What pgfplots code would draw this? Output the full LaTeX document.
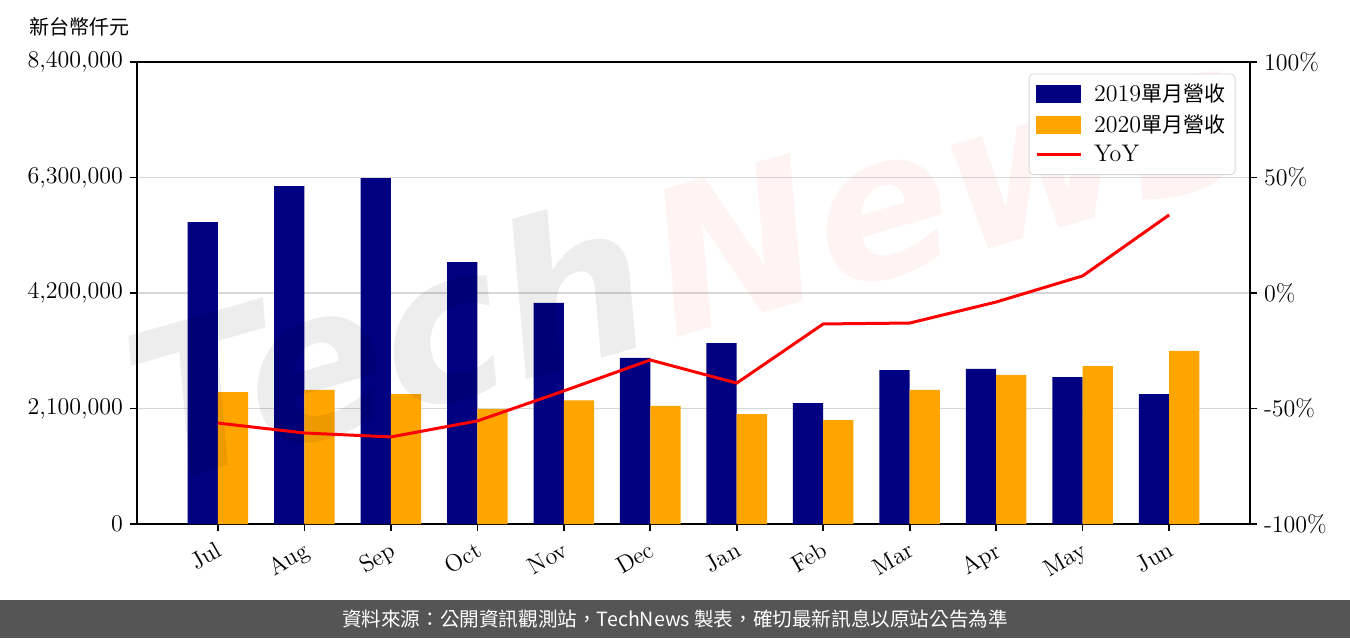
\documentclass[border=0pt]{standalone}
\usepackage{fontspec}
\usepackage{pgfplots}
\pgfplotsset{compat=1.18}
\newfontfamily\cjk{Noto Sans CJK TC}
\newfontfamily\wm{DejaVu Sans}
\definecolor{navybar}{RGB}{0,0,128}
\definecolor{orangebar}{RGB}{255,165,0}
\definecolor{footgray}{RGB}{85,85,85}
\definecolor{gridgray}{RGB}{215,215,215}
\begin{document}
\begin{tikzpicture}
\path (-68.5pt,-57pt) rectangle (606.5pt,262pt);
\fill[footgray] (-68.5pt,-57pt) rectangle (606.5pt,-38pt);
\node[text=white, font=\cjk\fontsize{9.8}{11}\selectfont] at (269pt,-47.5pt)
  {資料來源：公開資訊觀測站，TechNews 製表，確切最新訊息以原站公告為準};
\node[font=\cjk\fontsize{10}{12}\selectfont] at (-28.5pt,248.5pt) {新台幣仟元};

\begin{axis}[
    at={(0,0)}, anchor=south west,
    scale only axis, width=556.5pt, height=231pt,
    xmin=-0.935, xmax=11.935,
    ymin=0, ymax=8400000,
    axis line style={line width=1pt},
    xtick pos=left, ytick pos=left,
    tick align=outside,
    major tick length=3.5pt,
    tick style={line width=0.8pt, black},
    xtick={0,...,11},
    xticklabels={Jul,Aug,Sep,Oct,Nov,Dec,Jan,Feb,Mar,Apr,May,Jun},
    x tick label style={rotate=30, anchor=north east, font=\fontsize{12}{14}\selectfont},
    ytick={0,2100000,4200000,6300000,8400000},
    yticklabels={0,{2,100,000},{4,200,000},{6,300,000},{8,400,000}},
    y tick label style={font=\fontsize{12}{14}\selectfont},
    scaled y ticks=false,
    ymajorgrids,
    grid style={gridgray, line width=0.8pt},
    ybar, bar width=0.35,
]
\addplot[fill=navybar, draw=none, bar shift=-0.175] coordinates {
(0,5490000) (1,6145000) (2,6290000) (3,4760000) (4,4020000) (5,3020000)
(6,3290000) (7,2200000) (8,2800000) (9,2820000) (10,2670000) (11,2360000)};
\addplot[fill=orangebar, draw=none, bar shift=0.175] coordinates {
(0,2400000) (1,2440000) (2,2360000) (3,2090000) (4,2250000) (5,2150000)
(6,2000000) (7,1890000) (8,2440000) (9,2710000) (10,2870000) (11,3150000)};
\end{axis}

\node[overlay, font=\wm\bfseries\itshape\fontsize{104}{104}\selectfont, rotate=16,
  text=black, opacity=0.07, anchor=west] at (-5pt,55pt) {Tech};
\node[overlay, font=\wm\bfseries\itshape\fontsize{100}{100}\selectfont, rotate=16,
  text=red!40, opacity=0.12, anchor=west] at (255pt,126pt) {News};

\begin{axis}[
    at={(0,0)}, anchor=south west,
    scale only axis, width=556.5pt, height=231pt,
    xmin=-0.935, xmax=11.935,
    ymin=-100, ymax=100,
    axis x line=none,
    axis y line*=right,
    axis line style={line width=1pt},
    tick align=outside,
    major tick length=3.5pt,
    tick style={line width=0.8pt, black},
    ytick={-100,-50,0,50,100},
    yticklabels={-100\%,-50\%,0\%,50\%,100\%},
    y tick label style={font=\fontsize{12}{14}\selectfont},
    legend style={at={(0.987,0.975)}, anchor=north east, draw=gridgray,
      rounded corners=2pt, font=\fontsize{12}{14}\selectfont, fill=white,
      row sep=1pt, inner xsep=3pt, inner ysep=3pt},
    legend cell align=left,
]
\addlegendimage{legend image code/.code={\fill[navybar, sharp corners] (0pt,-4pt) rectangle (22pt,4.5pt); \path (26pt,0pt);}}
\addlegendentry{2019{\cjk\fontsize{10.5}{12}\selectfont 單月營收}}
\addlegendimage{legend image code/.code={\fill[orangebar, sharp corners] (0pt,-4pt) rectangle (22pt,4.5pt); \path (26pt,0pt);}}
\addlegendentry{2020{\cjk\fontsize{10.5}{12}\selectfont 單月營收}}
\addplot[red, line width=1.5pt, mark=none, legend image code/.code={\draw[red, line width=1.5pt, sharp corners] (0pt,0pt) -- (22pt,0pt); \path (26pt,0pt);}] coordinates {
(0,-56.3) (1,-60.6) (2,-62.3) (3,-55.4) (4,-42.4) (5,-29.0)
(6,-39.0) (7,-13.4) (8,-13.0) (9,-3.9) (10,7.4) (11,33.8)};
\addlegendentry{YoY}
\end{axis}
\end{tikzpicture}
\end{document}
